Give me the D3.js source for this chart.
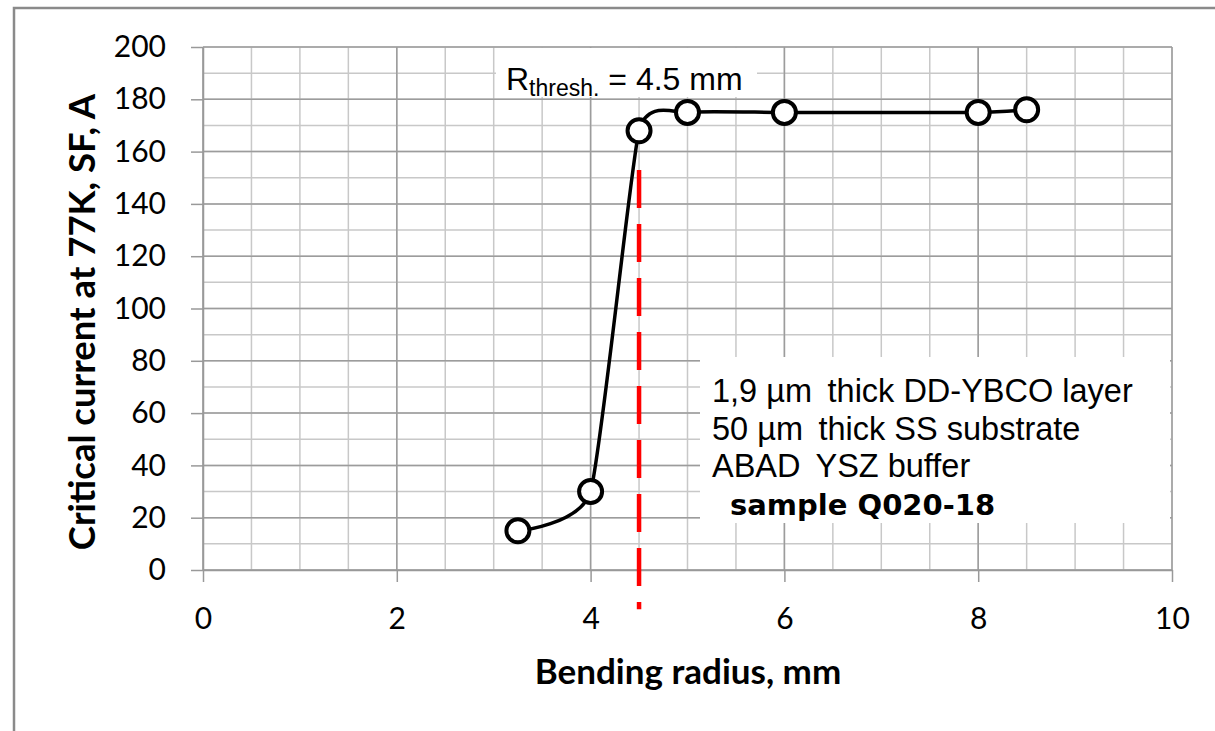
<!DOCTYPE html>
<html>
<head>
<meta charset="utf-8">
<script src="https://cdn.jsdelivr.net/npm/d3@7"></script>
<style>
  body { margin: 0; background: #fff; }
  .axis path, .axis line { stroke: #999; stroke-width: 1.5; }
  .axis text { font-family: Lato, "Open Sans", sans-serif; font-size: 30px; fill: #000; }
</style>
</head>
<body>
<svg id="chart" width="1215" height="731"></svg>
<script>
// Bending radius (mm) vs critical current (A)
const radius = [3.25, 4, 4.5, 5, 6, 8, 8.5];
const current = [15, 30, 168, 175, 175, 175, 176];

// threshold marker
const threshold = 4.5;
const thresholdSpan = [153, -15];

// axes
const xTicks = [0, 2, 4, 6, 8, 10];
const yTicks = [0, 20, 40, 60, 80, 100, 120, 140, 160, 180, 200];
const xMinor = d3.range(0, 10.01, 0.5);
const yMinor = d3.range(0, 201, 10);

const infoLines = ["1,9 µm\u2009 thick DD-YBCO layer", "50 µm\u2009 thick SS substrate", "ABAD\u2009 YSZ buffer"];
const sampleLabel = "sample Q020-18";

const margin = {top: 47, right: 43, bottom: 161, left: 203},
      width = 1215 - margin.left - margin.right,
      height = 731 - margin.top - margin.bottom;

const svg = d3.select("#chart");

// outer frame (top + left only)
svg.append("path")
    .attr("d", "M14,731 V8 H1215")
    .attr("fill", "none")
    .attr("stroke", "#8a8a8a")
    .attr("stroke-width", 2.5);

const g = svg.append("g")
    .attr("transform", "translate(" + margin.left + "," + margin.top + ")");

const x = d3.scaleLinear().domain([0, 10]).range([0, width]);
const y = d3.scaleLinear().domain([0, 200]).range([height, 0]);

// minor grid
g.selectAll(".vminor").data(xMinor).enter().append("line")
    .attr("x1", d => x(d)).attr("x2", d => x(d))
    .attr("y1", 0).attr("y2", height)
    .attr("stroke", "#c8c8c8").attr("stroke-width", 1.5);

g.selectAll(".hminor").data(yMinor).enter().append("line")
    .attr("x1", 0).attr("x2", width)
    .attr("y1", d => y(d)).attr("y2", d => y(d))
    .attr("stroke", "#c8c8c8").attr("stroke-width", 1.5);

// major grid
g.selectAll(".vmajor").data(xTicks).enter().append("line")
    .attr("x1", d => x(d)).attr("x2", d => x(d))
    .attr("y1", 0).attr("y2", height)
    .attr("stroke", "#9c9c9c").attr("stroke-width", 1.5);

g.selectAll(".hmajor").data(yTicks).enter().append("line")
    .attr("x1", 0).attr("x2", width)
    .attr("y1", d => y(d)).attr("y2", d => y(d))
    .attr("stroke", "#9c9c9c").attr("stroke-width", 1.5);

// axes
g.append("g")
    .attr("class", "axis")
    .attr("transform", "translate(0," + height + ")")
    .call(d3.axisBottom(x).tickValues(xTicks).tickSize(12).tickSizeOuter(0).tickPadding(26));

g.append("g")
    .attr("class", "axis")
    .call(d3.axisLeft(y).tickValues(yTicks).tickSize(12).tickSizeOuter(0).tickPadding(25));

// axis titles
svg.append("text")
    .attr("x", 688).attr("y", 684)
    .attr("text-anchor", "middle")
    .attr("font-family", "Lato, 'Open Sans', sans-serif")
    .attr("font-weight", "bold")
    .attr("font-size", 35)
    .text("Bending radius, mm");

svg.append("text")
    .attr("transform", "translate(95,322) rotate(-90)")
    .attr("text-anchor", "middle")
    .attr("font-family", "Lato, 'Open Sans', sans-serif")
    .attr("font-weight", "bold")
    .attr("font-size", 36.5)
    .text("Critical current at 77K, SF, A");

// threshold line
g.append("line")
    .attr("x1", x(threshold)).attr("x2", x(threshold))
    .attr("y1", y(thresholdSpan[0])).attr("y2", y(thresholdSpan[1]))
    .attr("stroke", "#ff0000")
    .attr("stroke-width", 4.5)
    .attr("stroke-dasharray", "38,16");

// R_thresh label
g.append("rect")
    .attr("x", 293).attr("y", 1)
    .attr("width", 261).attr("height", 49)
    .attr("fill", "#fff");

const rLabel = g.append("text")
    .attr("x", 303).attr("y", 43)
    .attr("font-family", "'Liberation Sans', Arial, sans-serif")
    .attr("font-size", 32);
rLabel.append("tspan").text("R");
rLabel.append("tspan").attr("font-size", 23).attr("dy", 6).text("thresh.");
rLabel.append("tspan").attr("dy", -6).text(" = 4.5 mm");

// info box
g.append("rect")
    .attr("x", 497).attr("y", 310)
    .attr("width", 470).attr("height", 166)
    .attr("fill", "#fff");

g.selectAll(".info").data(infoLines).enter().append("text")
    .attr("x", 509)
    .attr("y", (d, i) => 355 + i * 37.5)
    .attr("font-family", "'Liberation Sans', Arial, sans-serif")
    .attr("font-size", 32.5)
    .text(d => d);

g.append("text")
    .attr("x", 527).attr("y", 468)
    .attr("font-family", "'DejaVu Sans', Verdana, sans-serif")
    .attr("font-weight", "bold")
    .attr("font-size", 29)
    .text(sampleLabel);

// data curve (smoothed like the spreadsheet line)
const points = radius.map((r, i) => ({r: r, c: current[i]}));

const line = d3.line()
    .x(d => x(d.r))
    .y(d => y(d.c))
    .curve(d3.curveCardinal.tension(0.5));

g.append("path")
    .datum(points)
    .attr("d", line)
    .attr("fill", "none")
    .attr("stroke", "#000")
    .attr("stroke-width", 3.5);

g.selectAll(".marker").data(points).enter().append("circle")
    .attr("cx", d => x(d.r))
    .attr("cy", d => y(d.c))
    .attr("r", 11.5)
    .attr("fill", "#fff")
    .attr("stroke", "#000")
    .attr("stroke-width", 4);
</script>
</body>
</html>
